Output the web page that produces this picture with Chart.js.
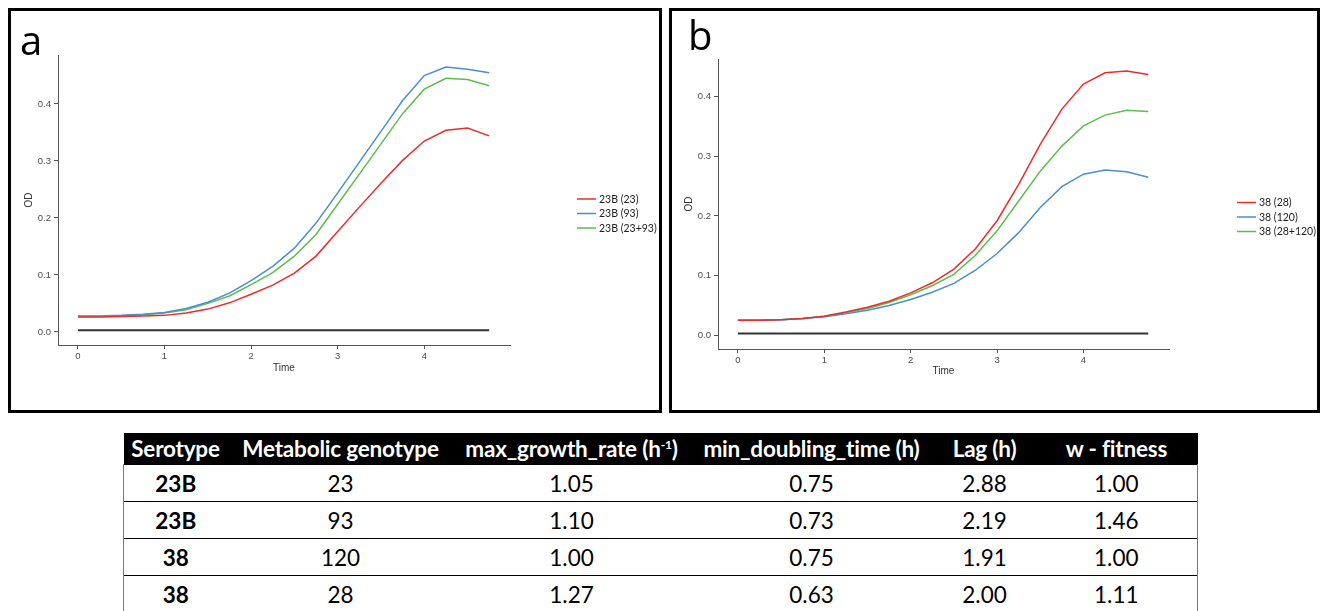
<!DOCTYPE html>
<html>
<head>
<meta charset="utf-8">
<script src="https://cdn.jsdelivr.net/npm/chart.js@4.4.0/dist/chart.umd.min.js"></script>
<style>
  body { margin: 0; width: 1322px; height: 611px; overflow: hidden; background: #fff; font-family: Lato, sans-serif; }
  .panel { position: absolute; top: 8px; height: 399px; border: 3px solid #000; background: #fff; }
  #panelA { left: 8px; width: 648px; }
  #panelB { left: 669px; width: 645px; }
  .panel canvas { position: absolute; left: 0; top: 0; }
  .tag { position: absolute; font-size: 40px; line-height: 1; color: #000; font-family: "Open Sans", sans-serif; }
  #results { position: absolute; left: 123px; top: 433px; width: 1074px; border-collapse: collapse; table-layout: fixed; }
  #results th { background: #000; color: #fff; font-weight: bold; font-size: 22.5px; height: 31px; padding: 0; white-space: nowrap; letter-spacing: -0.2px; }
  #results td { height: 36px; padding: 0; text-align: center; font-size: 22.5px; border-top: 1.5px solid #000; color: #000; }
  #results td:first-child { font-weight: bold; border-left: 1px solid #777; }
  #results td:last-child { border-right: 1px solid #777; }
  #results sup { font-size: 12px; }
</style>
</head>
<body>

<div class="panel" id="panelA"><canvas id="chartA" width="648" height="399"></canvas><div class="tag" style="left:9px;top:9px">a</div></div>
<div class="panel" id="panelB"><canvas id="chartB" width="645" height="399"></canvas><div class="tag" style="left:16px;top:4px">b</div></div>

<table id="results">
  <colgroup><col style="width:104px"><col style="width:226px"><col style="width:236px"><col style="width:244px"><col style="width:102px"><col style="width:162px"></colgroup>
  <thead><tr id="results-head"></tr></thead>
  <tbody id="results-body"></tbody>
</table>

<script>
// sampling times (h)
const times = [0, 0.25, 0.5, 0.75, 1, 1.25, 1.5, 1.75, 2, 2.25, 2.5, 2.75, 3, 3.25, 3.5, 3.75, 4, 4.25, 4.5, 4.75];
const xTicks = [0, 1, 2, 3, 4];
const yTicks = [0, 0.1, 0.2, 0.3, 0.4];

// panel a - serotype 23B
const labelsA = ['23B (23)', '23B (93)', '23B (23+93)'];
const od23 = [0.026, 0.026, 0.027, 0.028, 0.029, 0.033, 0.040, 0.051, 0.066, 0.082, 0.103, 0.133, 0.176, 0.219, 0.261, 0.301, 0.335, 0.354, 0.358, 0.344];
const od93 = [0.028, 0.028, 0.029, 0.031, 0.034, 0.041, 0.052, 0.068, 0.090, 0.115, 0.147, 0.191, 0.244, 0.298, 0.352, 0.406, 0.450, 0.465, 0.461, 0.455];
const od23_93 = [0.027, 0.027, 0.028, 0.030, 0.033, 0.039, 0.050, 0.063, 0.083, 0.104, 0.133, 0.171, 0.224, 0.277, 0.330, 0.383, 0.426, 0.445, 0.443, 0.432];
const blankA = [0.003, 0.003, 0.003, 0.003, 0.003, 0.003, 0.003, 0.003, 0.003, 0.003, 0.003, 0.003, 0.003, 0.003, 0.003, 0.003, 0.003, 0.003, 0.003, 0.003];

// panel b - serotype 38
const labelsB = ['38 (28)', '38 (120)', '38 (28+120)'];
const od28 = [0.025, 0.025, 0.026, 0.028, 0.032, 0.039, 0.047, 0.057, 0.071, 0.088, 0.111, 0.145, 0.192, 0.253, 0.320, 0.379, 0.421, 0.440, 0.443, 0.437];
const od120 = [0.025, 0.025, 0.026, 0.028, 0.031, 0.036, 0.042, 0.050, 0.060, 0.072, 0.087, 0.109, 0.137, 0.172, 0.214, 0.249, 0.270, 0.277, 0.274, 0.265];
const od28_120 = [0.025, 0.025, 0.026, 0.028, 0.032, 0.038, 0.045, 0.055, 0.068, 0.083, 0.102, 0.134, 0.175, 0.225, 0.275, 0.317, 0.351, 0.369, 0.377, 0.375];
const blankB = [0.003, 0.003, 0.003, 0.003, 0.003, 0.003, 0.003, 0.003, 0.003, 0.003, 0.003, 0.003, 0.003, 0.003, 0.003, 0.003, 0.003, 0.003, 0.003, 0.003];

// growth table
const tableHead = ['Serotype', 'Metabolic genotype', 'max_growth_rate (h<sup>-1</sup>)', 'min_doubling_time (h)', 'Lag (h)', 'w - fitness'];
const serotypes = ['23B', '23B', '38', '38'];
const genotypes = ['23', '93', '120', '28'];
const maxGrowth = ['1.05', '1.10', '1.00', '1.27'];
const minDoubling = ['0.75', '0.73', '0.75', '0.63'];
const lagTimes = ['2.88', '2.19', '1.91', '2.00'];
const fitness = ['1.00', '1.46', '1.00', '1.11'];

const lineColors = ['#ee2b2b', '#4a8ed2', '#5cbd4f'];

function toPoints(values) {
  return values.map((v, i) => ({ x: times[i], y: v }));
}

// legend drawn to the right of the plot, like ggplot
const sideLegend = {
  id: 'sideLegend',
  afterDraw(chart, args, opts) {
    const ctx = chart.ctx;
    const area = chart.chartArea;
    const mid = (area.top + area.bottom) / 2 + opts.shift;
    const x0 = area.right + opts.gap;
    ctx.save();
    ctx.font = '10.5px Lato, sans-serif';
    ctx.textBaseline = 'middle';
    ctx.fillStyle = '#222';
    chart.data.datasets.forEach((ds, i) => {
      if (!ds.label) return;
      const y = mid + (i - 1) * 14.5;
      ctx.strokeStyle = ds.borderColor;
      ctx.lineWidth = 1.5;
      ctx.beginPath();
      ctx.moveTo(x0, y);
      ctx.lineTo(x0 + 19, y);
      ctx.stroke();
      ctx.fillText(ds.label, x0 + 22, y + 0.5);
    });
    ctx.restore();
  }
};

function makePanel(canvasId, labels, series, blank, yMax, box) {
  const datasets = series.map((vals, i) => ({
    label: labels[i],
    data: toPoints(vals),
    borderColor: lineColors[i],
    borderWidth: 1.5,
    pointRadius: 0,
    tension: 0
  }));
  datasets.push({ label: '', data: toPoints(blank), borderColor: '#333', borderWidth: 2, pointRadius: 0 });

  const tickFont = { family: 'Liberation Sans, Arial, sans-serif', size: 9.5 };
  new Chart(document.getElementById(canvasId), {
    type: 'line',
    data: { datasets: datasets },
    options: {
      responsive: false,
      animation: false,
      events: [],
      layout: { padding: { left: box.left, right: box.right, top: box.top, bottom: box.bottom } },
      plugins: {
        legend: { display: false },
        tooltip: { enabled: false },
        sideLegend: { gap: box.gap, shift: box.shift }
      },
      scales: {
        x: {
          type: 'linear',
          min: -0.23,
          max: 4.99,
          afterBuildTicks: s => { s.ticks = xTicks.map(v => ({ value: v })); },
          afterFit: s => { s.height = box.xh; },
          ticks: { color: '#4d4d4d', font: tickFont, padding: 2, maxRotation: 0, callback: v => String(v) },
          grid: { drawOnChartArea: false, drawTicks: true, tickLength: 4, color: '#555' },
          border: { display: true, color: '#555', width: 1 },
          title: { display: true, text: 'Time', color: '#333', font: { family: 'Liberation Sans, Arial, sans-serif', size: 10 } }
        },
        y: {
          min: -0.023,
          max: yMax,
          afterBuildTicks: s => { s.ticks = yTicks.map(v => ({ value: v })); },
          afterFit: s => { s.width = box.yw; },
          ticks: { color: '#4d4d4d', font: tickFont, padding: 3, callback: v => v.toFixed(1) },
          grid: { drawOnChartArea: false, drawTicks: true, tickLength: 4, color: '#555' },
          border: { display: true, color: '#555', width: 1 },
          title: { display: true, text: 'OD', color: '#333', font: { family: 'Liberation Sans, Arial, sans-serif', size: 10 } }
        }
      }
    },
    plugins: [sideLegend]
  });
}

function fillTable() {
  const head = document.getElementById('results-head');
  tableHead.forEach(h => { head.innerHTML += `<th>${h}</th>`; });
  const body = document.getElementById('results-body');
  serotypes.forEach((s, i) => {
    body.innerHTML += `
      <tr>
        <td>${s}</td>
        <td>${genotypes[i]}</td>
        <td>${maxGrowth[i]}</td>
        <td>${minDoubling[i]}</td>
        <td>${lagTimes[i]}</td>
        <td>${fitness[i]}</td>
      </tr>`;
  });
}

makePanel('chartA', labelsA, [od23, od93, od23_93], blankA, 0.486,
  { left: 8, right: 149, top: 44, bottom: 32, yw: 39, xh: 33, gap: 67, shift: 13.5 });
makePanel('chartB', labelsB, [od28, od120, od28_120], blankB, 0.463,
  { left: 7, right: 148, top: 48, bottom: 29, yw: 39, xh: 32, gap: 68, shift: 13 });
fillTable();
</script>
</body>
</html>
